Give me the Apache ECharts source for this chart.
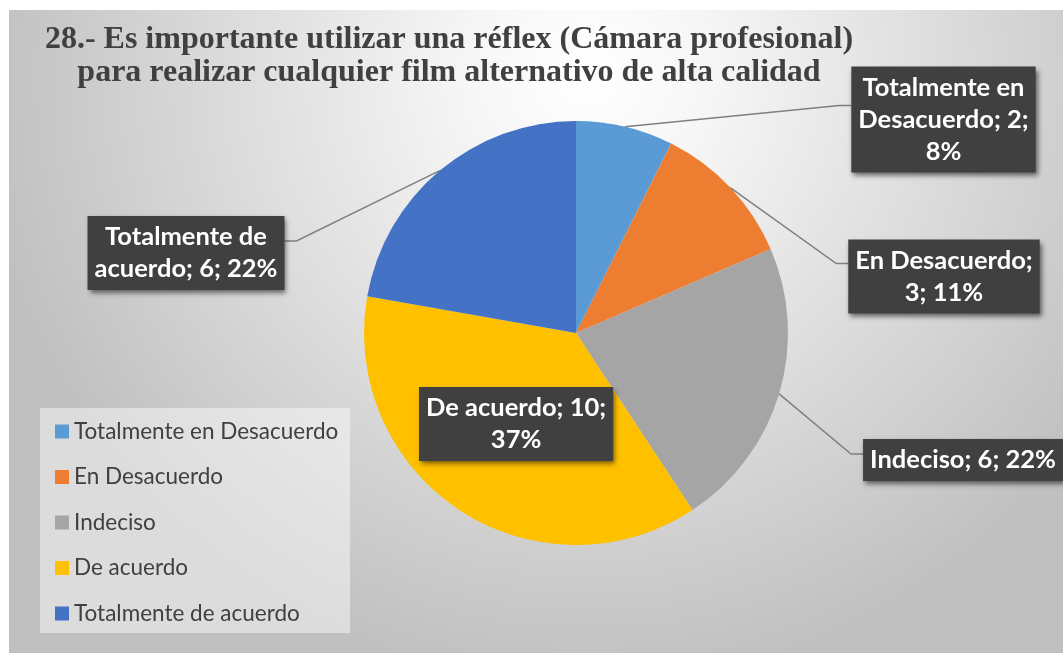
<!DOCTYPE html>
<html><head><meta charset="utf-8">
<script src="https://cdn.jsdelivr.net/npm/echarts@6/dist/echarts.min.js"></script>
<style>html,body{margin:0;padding:0;background:#fff}#c{width:1063px;height:653px}</style>
</head><body><div id="c"></div>
<script>
const categories = ['Totalmente en Desacuerdo','En Desacuerdo','Indeciso','De acuerdo','Totalmente de acuerdo'];
const values = [2, 3, 6, 10, 6];
const percents = [8, 11, 22, 37, 22];
const colors = ['#5b9bd5', '#ed7d31', '#a5a5a5', '#ffc000', '#4472c4'];
const titleLines = ['28.- Es importante utilizar una réflex (Cámara profesional)', 'para realizar cualquier film alternativo de alta calidad'];
const wordsPerLine = [[2, 2, 1], [2, 2], [3], [3, 1], [2, 3]];

// layout of the outside label boxes (centre, side, line attach offset)
const labelBoxes = [
  {x: 943.5, y: 119.5, side: 'right', dy: -14},
  {x: 944, y: 276.5, side: 'right', dy: -13},
  {x: 963, y: 460, side: 'right', dy: -6},
  null,
  {x: 186, y: 253, side: 'left', dy: -12}
];

function labelText(i) {
  const words = (categories[i] + '; ' + values[i] + '; ' + percents[i] + '%').split(' ');
  const lines = [];
  let k = 0;
  wordsPerLine[i].forEach(n => { lines.push(words.slice(k, k + n).join(' ')); k += n; });
  return lines.join('\n');
}

const chart = echarts.init(document.getElementById('c'), null, {renderer: 'canvas'});
chart.setOption({
  animation: false,
  color: colors,
  graphic: [
    {type: 'rect', z: -10, shape: {x: 9, y: 10, width: 1054, height: 643},
     style: {fill: {type: 'radial', x: 0.55, y: 0.1, r: 0.95, colorStops: [
       {offset: 0, color: '#ffffff'}, {offset: 0.2, color: '#f6f6f6'}, {offset: 1, color: '#c0c0c0'}]}}},
    {type: 'rect', z: 1, shape: {x: 40, y: 408, width: 310, height: 225},
     style: {fill: 'rgba(255,255,255,0.45)'}}
  ],
  title: {
    text: titleLines.join('\n'),
    left: 449, top: 23, padding: 0, textAlign: 'center',
    textStyle: {fontFamily: 'Liberation Serif', fontWeight: 'bold', fontSize: 32, lineHeight: 33, color: '#404040'}
  },
  legend: {
    data: categories, orient: 'vertical', left: 55, top: 420, padding: 0,
    itemWidth: 14, itemHeight: 14, itemGap: 22.5, icon: 'rect',
    textStyle: {fontFamily: 'Lato', fontSize: 22.5, lineHeight: 20, color: '#404040'}
  },
  series: [{
    type: 'pie',
    center: [576, 333],
    radius: 212,
    startAngle: 90,
    clockwise: true,
    avoidLabelOverlap: false,
    itemStyle: {borderWidth: 0},
    data: categories.map((c, i) => ({
      name: c, value: values[i],
      label: i === 3 ? {position: 'inside'} : {position: 'outside'},
      labelLine: {show: i !== 3}
    })),
    label: {
      formatter: p => labelText(p.dataIndex),
      color: '#ffffff', fontFamily: 'Lato', fontWeight: 'bold', fontSize: 25.5, lineHeight: 32,
      align: 'center',
      backgroundColor: '#404040', padding: [5, 7],
      shadowColor: 'rgba(0,0,0,0.55)', shadowBlur: 5, shadowOffsetX: 2, shadowOffsetY: 3
    },
    labelLine: {lineStyle: {color: '#7f7f7f', width: 1.5}, length: 20, length2: 20},
    labelLayout: function (p) {
      const b = labelBoxes[p.dataIndex];
      if (!b) return {};
      const w = p.labelRect.width;
      const edgeX = b.side === 'right' ? b.x - w / 2 : b.x + w / 2;
      const kneeX = b.side === 'right' ? edgeX - 12 : edgeX + 12;
      const ay = b.y + b.dy;
      const out = {x: b.x, y: b.y, align: 'center', verticalAlign: 'middle'};
      if (p.labelLinePoints) out.labelLinePoints = [p.labelLinePoints[0], [kneeX, ay], [edgeX, ay]];
      return out;
    }
  }]
});
</script></body></html>
